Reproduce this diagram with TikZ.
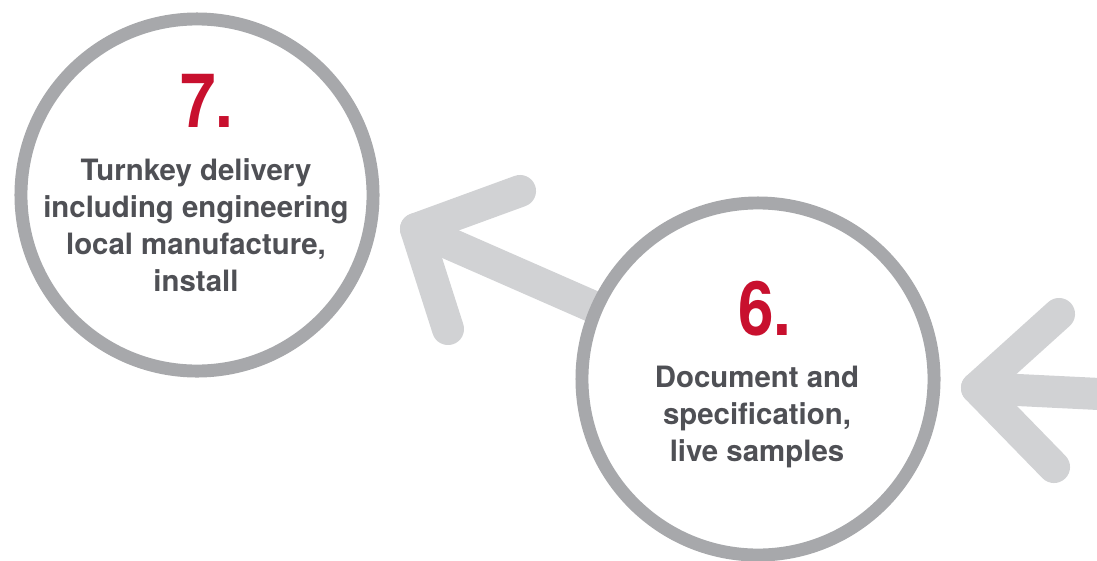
\documentclass[tikz,border=0pt]{standalone}
\usepackage{fontspec}
\setmainfont{TeX Gyre Heros}
\newfontfamily\numfont[FakeStretch=0.85]{TeX Gyre Heros}
\usetikzlibrary{backgrounds}

\definecolor{ringgray}{HTML}{A7A8AB}
\definecolor{arrowgray}{HTML}{D1D2D4}
\definecolor{textgray}{HTML}{4F5055}
\definecolor{stepred}{HTML}{C8102E}

\tikzset{
  stage/.style={circle, draw=ringgray, line width=9.2pt, fill=white,
    minimum size=8.8cm, inner sep=0pt},
  stepnum/.style={anchor=base, inner sep=0pt, text=stepred,
    font=\numfont\bfseries\fontsize{53.4}{53.4}\selectfont},
  steptext/.style={anchor=base, inner sep=0pt, text=textgray, align=center,
    font=\bfseries\fontsize{20.9}{26.3}\selectfont},
  flow/.style={draw=arrowgray, line width=22.8pt, line cap=round, line join=round}
}

\begin{document}
\begin{tikzpicture}[x=0.025cm, y=-0.025cm]
	\useasboundingbox (0,0) rectangle (1097,560);
	\clip (0,0) rectangle (1097,560);

	% step 7 (text node sits on its last baseline)
	\node[stage] (c7) at (197,195) {};
	\node[stepnum] (n7) at (207,127) {7.};
	\node[steptext] (t7) at (196,291) {Turnkey delivery\\including engineering\\local manufacture,\\install};

	% step 6
	\node[stage] (c6) at (758,379) {};
	\node[stepnum] (n6) at (765,335) {6.};
	\node[steptext] (t6) at (757,461) {Document and\\specification,\\live samples};

	% arrows behind the circles
	\coordinate (tip7) at (416,229);
	\coordinate (tip6) at (977,388);
	\coordinate (in6) at (1140,396);
	\begin{scope}[on background layer]
		\draw[flow] (c6.center) -- (tip7);
		\draw[flow] (520,191) -- (tip7) -- (448,329);
		\draw[flow] (in6) -- (tip6);
		\draw[flow] (1059,314) -- (tip6) -- (1054,467);
	\end{scope}
\end{tikzpicture}
\end{document}
